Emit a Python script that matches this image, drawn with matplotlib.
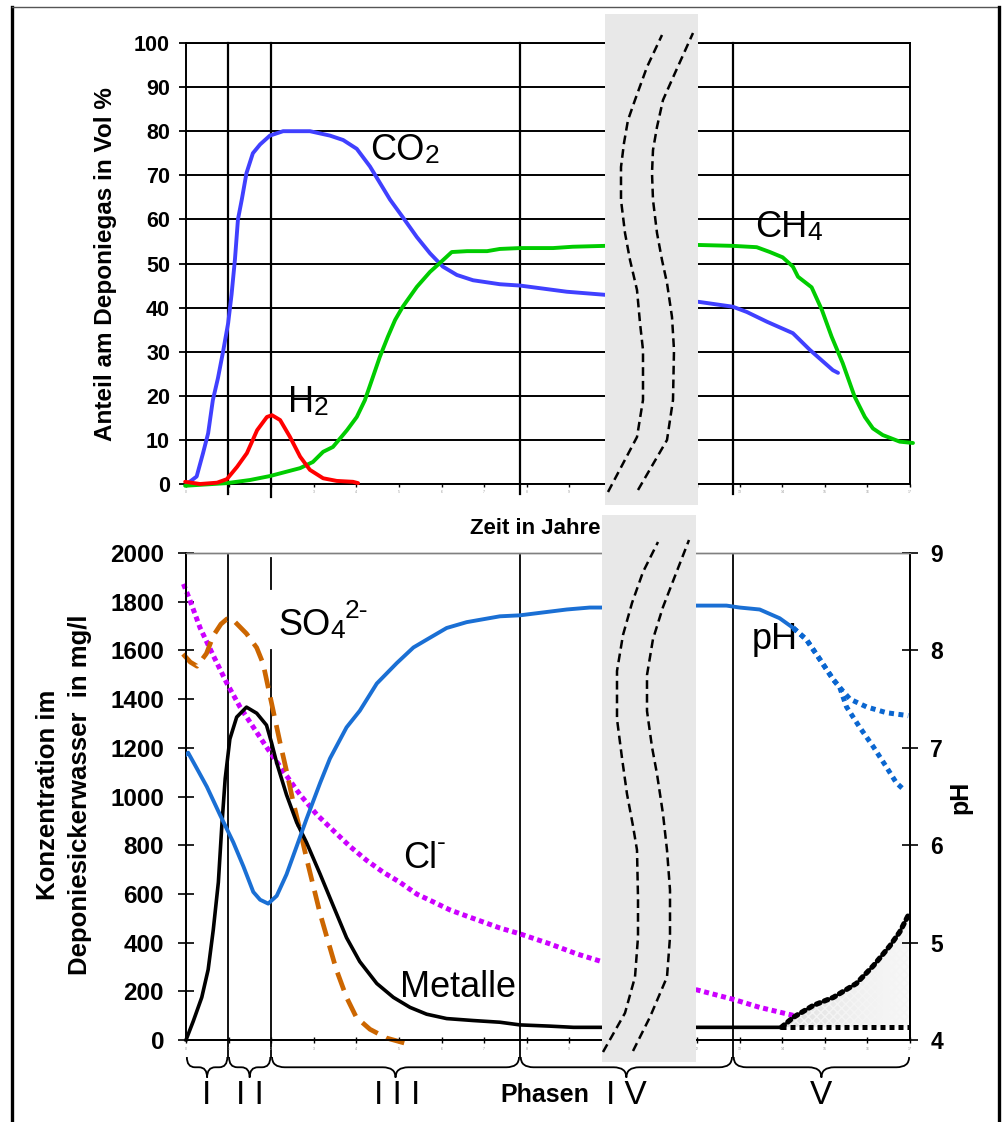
import numpy as np
import matplotlib
matplotlib.use("Agg")
import matplotlib.pyplot as plt
from matplotlib.patches import Rectangle, PathPatch
from matplotlib.lines import Line2D
from matplotlib.path import Path
from matplotlib.transforms import blended_transform_factory

plt.rcParams['font.family'] = ['Liberation Sans', 'DejaVu Sans']

# ---------------- data (time axis in arbitrary units 0..17) ----------------
phase_bounds = [0.99, 2.0, 7.84, 12.84]
phase_labels = ['I', 'I I', 'I I I', 'I V', 'V']
phase_label_x = [0.47, 1.5, 4.95, 10.35, 14.9]
x_tick_pos = [0, 1, 2, 3, 4, 5, 6, 7, 8, 9, 12, 13, 14, 15, 16, 17]
x_tick_lab = ['0', '1', '2', '3', '4', '5', '6', '7', '8', '9', '12', '13', '14', '15', '16', '17']
gas_ticks = [0, 10, 20, 30, 40, 50, 60, 70, 80, 90, 100]
conc_ticks = [0, 200, 400, 600, 800, 1000, 1200, 1400, 1600, 1800, 2000]
ph_ticks = [4, 5, 6, 7, 8, 9]

co2_x = [0.02, 0.25, 0.40, 0.52, 0.63, 0.75, 0.87, 0.99, 1.07, 1.15, 1.22, 1.31, 1.42, 1.57, 1.74, 1.97,
         2.28, 2.91, 3.38, 3.69, 4.01, 4.32, 4.79, 5.09, 5.42, 5.73, 6.03, 6.36, 6.74, 7.37, 7.84, 8.94,
         9.84, 12.04, 12.84, 13.17, 13.64, 14.25, 14.65, 15.19, 15.31]
co2_y = [0, 1.7, 7, 11.5, 19, 24, 30, 36.5, 43, 51, 60, 64.5, 70.5, 75, 77, 79,
         80, 80, 79, 78, 76, 72, 64.5, 60.5, 56, 52.3, 49.3, 47.4, 46.2, 45.3, 45, 43.6,
         42.9, 41.3, 40.2, 39, 36.8, 34.2, 30.4, 25.8, 25.2]

ch4_x = [-0.02, 0.96, 1.50, 1.97, 2.68, 2.98, 3.22, 3.45, 3.78, 4.01, 4.20, 4.39, 4.55, 4.74, 4.91, 5.09,
         5.42, 5.73, 5.96, 6.24, 6.60, 7.07, 7.37, 7.84, 8.62, 9.08, 9.84, 12.04, 12.84, 13.40, 13.71,
         14.01, 14.25, 14.37, 14.69, 14.93, 15.16, 15.42, 15.70, 15.94, 16.13, 16.36, 16.76, 17.07]
ch4_y = [-0.4, 0.2, 0.9, 1.8, 3.6, 5, 7.3, 8.4, 12.2, 15.2, 19, 24.3, 28.8, 33.4, 37.2, 40.2,
         44.7, 48.1, 50.1, 52.6, 52.8, 52.8, 53.3, 53.5, 53.5, 53.8, 54.0, 54.2, 54.0, 53.7, 52.6,
         51.4, 49.3, 47, 44.6, 39.5, 33.4, 27.4, 19.8, 15.2, 12.6, 11.1, 9.6, 9.3]

h2_x = [-0.02, 0.33, 0.73, 0.96, 1.20, 1.43, 1.67, 1.90, 2.02, 2.21, 2.44, 2.68, 2.91, 3.22, 3.54, 3.92, 4.04]
h2_y = [0.5, 0, 0.3, 1.1, 3.9, 7, 12.2, 15.2, 15.6, 14.5, 10.7, 6.2, 3.2, 1.3, 0.7, 0.5, 0.2]

ph_x = [0.0, 0.05, 0.29, 0.49, 0.8, 1.11, 1.35, 1.58, 1.74, 1.93, 2.13, 2.36, 2.6, 2.83, 3.15, 3.38,
        3.77, 4.08, 4.48, 4.95, 5.34, 5.65, 6.12, 6.59, 7.37, 7.84, 8.94, 9.48, 9.76, 11.97, 12.69,
        13.0, 13.47, 13.94, 14.26]
ph_y = [6.93, 6.95, 6.76, 6.6, 6.31, 6.03, 5.78, 5.52, 5.44, 5.40, 5.48, 5.70, 5.99, 6.27, 6.64, 6.89,
        7.21, 7.38, 7.66, 7.87, 8.03, 8.11, 8.23, 8.29, 8.35, 8.36, 8.42, 8.44, 8.44, 8.46, 8.46,
        8.44, 8.42, 8.33, 8.23]
ph_hi_x = [14.26, 14.57, 14.88, 15.2, 15.35, 15.59, 15.98, 16.45, 16.96]
ph_hi_y = [8.23, 8.11, 7.91, 7.70, 7.62, 7.5, 7.42, 7.36, 7.33]
ph_lo_x = [14.26, 14.57, 14.88, 15.2, 15.35, 15.51, 15.82, 16.14, 16.45, 16.68, 16.88]
ph_lo_y = [8.23, 8.11, 7.91, 7.70, 7.62, 7.42, 7.21, 7.01, 6.80, 6.64, 6.56]

cl_x = [-0.06, 0.09, 0.33, 0.64, 0.96, 1.27, 1.58, 1.89, 2.28, 2.68, 3.07, 3.46, 3.85, 4.24, 4.63, 5.02,
        5.42, 5.81, 6.2, 6.59, 7.37, 7.84, 8.54, 9.17, 9.76, 11.97, 12.85, 13.47, 14.26]
cl_y = [1873, 1807, 1693, 1579, 1465, 1367, 1285, 1203, 1105, 1007, 926, 860, 795, 738, 689, 648,
        599, 567, 534, 509, 460, 436, 395, 354, 322, 207, 167, 134, 101]

so4_x = [-0.07, 0.1, 0.26, 0.48, 0.64, 0.82, 0.96, 1.1, 1.42, 1.66, 1.81, 1.93, 2.05, 2.21, 2.36, 2.52,
         2.68, 2.83, 2.99, 3.15, 3.34, 3.53, 3.77, 4.0, 4.32, 4.71, 5.14]
so4_y = [1585, 1552, 1535, 1587, 1660, 1708, 1729, 1726, 1669, 1611, 1546, 1448, 1350, 1220, 1105, 975,
         860, 746, 632, 518, 403, 289, 175, 93, 44, 8, -13]

met_x = [0.0, 0.17, 0.37, 0.52, 0.64, 0.76, 0.84, 0.92, 1.03, 1.19, 1.42, 1.66, 1.89, 2.01, 2.13, 2.36,
         2.6, 2.83, 3.15, 3.46, 3.77, 4.08, 4.48, 4.87, 5.26, 5.65, 6.12, 6.74, 7.37, 7.84, 8.54, 9.1, 13.98]
met_y = [0, 77, 175, 289, 452, 648, 877, 1073, 1236, 1326, 1367, 1342, 1293, 1220, 1138, 1007,
         893, 811, 681, 550, 420, 322, 232, 175, 134, 106, 88, 80, 73, 62, 57, 52, 52]
met_hi_x = [13.98, 14.26, 14.73, 15.2, 15.74, 16.14, 16.53, 16.76, 16.96]
met_hi_y = [52, 93, 142, 175, 232, 305, 387, 444, 512]
met_lo_x = [13.98, 17.0]
met_lo_y = [52, 52]

# decorative axis-break curves (pixel coordinates of the figure)
brk_top_l = [(608, 492), (637, 437), (643, 400), (643, 350), (640, 323), (637, 290), (630, 260), (625, 233),
             (621, 200), (621, 167), (624, 143), (628, 120), (635, 100), (647, 67), (662, 35)]
brk_top_r = [(638, 490), (667, 440), (673, 400), (674, 350), (672, 317), (667, 283), (662, 260), (657, 233),
             (653, 200), (652, 173), (653, 150), (657, 127), (663, 100), (675, 73), (693, 33)]
brk_bot_l = [(603, 1052), (625, 1013), (635, 977), (638, 937), (638, 898), (637, 850), (633, 826), (627, 794),
             (622, 758), (617, 719), (617, 671), (623, 635), (632, 603), (643, 572), (658, 542)]
brk_bot_r = [(633, 1051), (650, 1017), (667, 977), (670, 937), (670, 890), (667, 850), (663, 814), (657, 774),
             (652, 747), (647, 711), (647, 675), (653, 639), (663, 607), (675, 576), (689, 540)]

W, H = 1002, 1122
fig = plt.figure(figsize=(W / 100, H / 100), dpi=100)


def fx(px):
    return px / W


def fy(py):
    return 1 - py / H


XL, XR = 186, 910
ax = fig.add_axes([fx(XL), fy(484), (XR - XL) / W, (484 - 43) / H])
axb = fig.add_axes([fx(XL), fy(1040), (XR - XL) / W, (1040 - 553) / H])
ax2 = axb.twinx()

# ---------------- top panel ----------------
ax.set_xlim(0, 17)
ax.set_ylim(0, 100)
ax.set_yticks(gas_ticks)
ax.set_xticks(x_tick_pos)
ax.set_xticklabels(x_tick_lab)
ax.yaxis.grid(True, color='black', lw=1.4, zorder=0)
ax.set_axisbelow(True)
for s in ax.spines.values():
    s.set_color('black')
    s.set_linewidth(1.4)
ax.tick_params(axis='y', direction='out', length=5, width=1.3, pad=6.5, labelsize=15.5)
ax.tick_params(axis='x', direction='out', length=2.5, width=1, pad=1.5, labelsize=2.5, labelcolor='#999999')
for lab in ax.get_yticklabels():
    lab.set_fontweight('bold')
for xb, ext in zip(phase_bounds, [0.023, 0.03, 0.023, 0.023]):
    ax.axvline(xb, ymin=-ext, ymax=1, color='black', lw=1.6, clip_on=False, zorder=1)

line_kw = dict(lw=2.8, clip_on=False, solid_capstyle='round', solid_joinstyle='round')
ax.plot(co2_x, co2_y, color='#4040ff', zorder=3, **line_kw)
ax.plot(ch4_x, ch4_y, color='#00cc00', zorder=3, **line_kw)
ax.plot(h2_x, h2_y, color='#ff0000', zorder=4, **line_kw)


def chem_label(a, x, y, main, sub=None, sup=None, size=26, subsize=19, supfrac=0.62):
    t = a.text(x, y, main, fontsize=size, ha='left', va='baseline', zorder=4)
    last = t
    if sub is not None:
        last = a.annotate(sub, xy=(1, 0), xycoords=t, ha='left', va='bottom', fontsize=subsize, zorder=4)
    if sup is not None:
        a.annotate(sup, xy=(1, supfrac), xycoords=last, ha='left', va='bottom', fontsize=subsize, zorder=4)
    return t


chem_label(ax, 4.32, 73.5, 'CO', sub='2')
chem_label(ax, 2.39, 16.4, 'H', sub='2')
chem_label(ax, 13.36, 55.9, 'CH', sub='4')

fig.text(fx(106), fy(264), 'Anteil am Deponiegas in Vol %', rotation=90, ha='center', va='center',
         fontsize=17.5, fontweight='bold')
fig.text(fx(470), fy(534), 'Zeit in Jahren', ha='left', va='baseline', fontsize=16, fontweight='bold', zorder=2)

# ---------------- bottom panel ----------------
axb.set_xlim(0, 17)
axb.set_ylim(0, 2000)
ax2.set_ylim(4, 9)
axb.set_yticks(conc_ticks)
ax2.set_yticks(ph_ticks)
axb.set_xticks(x_tick_pos)
axb.set_xticklabels(x_tick_lab)
for a in (axb, ax2):
    for s in a.spines.values():
        s.set_color('black')
        s.set_linewidth(1.3)
    a.spines['top'].set_color('#808080')
    a.spines['top'].set_linewidth(1.0)
axb.tick_params(axis='y', direction='inout', length=11.5, width=1.2, pad=10, labelsize=17.5)
ax2.tick_params(axis='y', direction='inout', length=11, width=1.2, pad=9, labelsize=16.5)
axb.tick_params(axis='x', direction='inout', length=4, width=1, pad=3, labelsize=2.5, labelcolor='#999999')
for lab in axb.get_yticklabels() + ax2.get_yticklabels():
    lab.set_fontweight('bold')

for i, xb in enumerate(phase_bounds):
    if i == 1:
        axb.axvline(xb, ymin=-0.035, ymax=0.80, color='black', lw=1.3, clip_on=False, zorder=1)
        axb.axvline(xb, ymin=0.926, ymax=0.99, color='black', lw=1.3, clip_on=False, zorder=1)
    else:
        axb.axvline(xb, ymin=-0.035, ymax=0.996, color='black', lw=1.3, clip_on=False, zorder=1)

axb.plot(cl_x, cl_y, color='#cc00ff', lw=3.6, linestyle=(0, (1, 0.75)), dash_capstyle='butt',
         zorder=3, clip_on=False)
axb.plot(so4_x, so4_y, color='#cc6600', lw=3.4, linestyle=(0, (4, 2)), dash_capstyle='butt',
         zorder=3, clip_on=False)
axb.plot(met_x, met_y, color='black', lw=2.6, zorder=4, clip_on=False, solid_joinstyle='round')

# shaded region for metals in phase V
poly = axb.fill_between(met_hi_x, [met_lo_y[0]] * len(met_hi_x), met_hi_y, color='none', lw=0, zorder=2)
grad = np.linspace(0.22, 0.06, 256).reshape(1, -1)
im = axb.imshow(grad, extent=[met_hi_x[0], met_hi_x[-1] + 0.05, met_lo_y[0], max(met_hi_y)],
                aspect='auto', cmap='Greys', vmin=0, vmax=1, zorder=2, interpolation='bilinear')
im.set_clip_path(poly.get_paths()[0], transform=axb.transData)
axb.fill_between(met_hi_x, [met_lo_y[0]] * len(met_hi_x), met_hi_y, facecolor='none', hatch='xxxx',
                 edgecolor='#f4f4f4', lw=0, zorder=2)
axb.plot(met_hi_x, met_hi_y, color='black', lw=3.8, linestyle=(0, (0.7, 0.9)), zorder=4,
         dash_capstyle='round')
axb.plot(met_lo_x, met_lo_y, color='black', lw=3.6, linestyle=(0, (1, 0.8)), zorder=4,
         dash_capstyle='butt')
axb.set_xlim(0, 17)
axb.set_ylim(0, 2000)

ax2.plot(ph_x, ph_y, color='#1a6fd4', lw=2.8, zorder=3, solid_joinstyle='round')
ax2.plot(ph_hi_x, ph_hi_y, color='#0a66d0', lw=3.6, linestyle=(0, (1, 0.9)), dash_capstyle='butt', zorder=3)
ax2.plot(ph_lo_x, ph_lo_y, color='#0a66d0', lw=3.6, linestyle=(0, (1, 0.9)), dash_capstyle='butt', zorder=3)

chem_label(axb, 2.16, 1662, 'SO', sub='4', sup='2-', supfrac=0.85)
chem_label(axb, 5.09, 707, 'Cl', sup='-', supfrac=0.6)
axb.text(5.02, 177, 'Metalle', fontsize=26, ha='left', va='baseline', zorder=4)
axb.text(13.29, 1606, 'pH', fontsize=26, ha='left', va='baseline', zorder=4)

fig.text(fx(48), fy(795), 'Konzentration im', rotation=90, ha='center', va='center',
         fontsize=18.5, fontweight='bold')
fig.text(fx(80), fy(795), 'Deponiesickerwasser  in mg/l', rotation=90, ha='center', va='center',
         fontsize=18.5, fontweight='bold')
fig.text(fx(960), fy(797), 'pH', rotation=90, ha='center', va='center', fontsize=18, fontweight='bold')

# braces and phase labels
btr = blended_transform_factory(axb.transData, axb.transAxes)
edges = [0.0] + phase_bounds + [17.0]
yt, ym, yb = -0.035, -0.056, -0.077
for i in range(5):
    x0, x1 = edges[i] + 0.02, edges[i + 1] - 0.02
    xm = 0.5 * (x0 + x1)
    r = min(0.3, (x1 - x0) / 5)
    verts = [(x0, yt), (x0, ym), (x0 + r, ym), (xm - r, ym), (xm, ym), (xm, yb),
             (xm, ym), (xm + r, ym), (x1 - r, ym), (x1, ym), (x1, yt)]
    codes = [Path.MOVETO, Path.CURVE3, Path.CURVE3, Path.LINETO, Path.CURVE3, Path.CURVE3,
             Path.CURVE3, Path.CURVE3, Path.LINETO, Path.CURVE3, Path.CURVE3]
    axb.add_patch(PathPatch(Path(verts, codes), transform=btr, fill=False, lw=1.3,
                            edgecolor='black', clip_on=False))
for lx, lab in zip(phase_label_x, phase_labels):
    axb.text(lx, -0.113, lab, transform=btr, ha='center', va='center', fontsize=24)
axb.text(8.43, -0.113, 'Phasen', transform=btr, ha='center', va='center', fontsize=18, fontweight='bold')

# axis-break bands
fig.add_artist(Rectangle((fx(605), fy(505)), (698 - 605) / W, (505 - 14) / H, transform=fig.transFigure,
                         facecolor='#e8e8e8', edgecolor='none', zorder=5))
fig.add_artist(Rectangle((fx(602), fy(1062)), (696 - 602) / W, (1062 - 515) / H, transform=fig.transFigure,
                         facecolor='#e8e8e8', edgecolor='none', zorder=5))
for crv in (brk_top_l, brk_top_r, brk_bot_l, brk_bot_r):
    xs = [fx(p[0]) for p in crv]
    ys = [fy(p[1]) for p in crv]
    fig.add_artist(Line2D(xs, ys, transform=fig.transFigure, color='black', lw=1.8,
                          linestyle=(0, (3.5, 2)), zorder=6, solid_joinstyle='round'))

# outer frame
fig.add_artist(Line2D([fx(12), fx(12)], [fy(7), 0], transform=fig.transFigure, color='black', lw=2.4))
fig.add_artist(Line2D([fx(12), fx(999)], [fy(7), fy(7)], transform=fig.transFigure, color='#555555', lw=1.0))
fig.add_artist(Line2D([fx(999), fx(999)], [fy(7), 0], transform=fig.transFigure, color='black', lw=2.4))

fig.savefig('out.png', dpi=100)
